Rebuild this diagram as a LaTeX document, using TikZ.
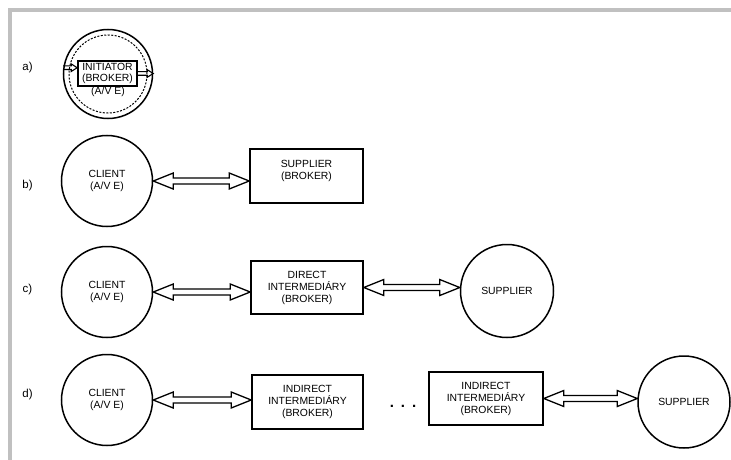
\documentclass[tikz,border=0pt]{standalone}
\usepackage{fontspec}
\setmainfont{Liberation Sans}
\usetikzlibrary{calc}
\definecolor{framegray}{HTML}{C0C0C0}
\begin{document}
\begin{tikzpicture}[x=1pt,y=-1pt,
  every node/.style={font=\fontsize{10.4}{12}\selectfont, align=center, inner sep=0pt},
  ent/.style={circle, draw, line width=1.5pt, minimum size=91pt},
  box/.style={rectangle, draw, line width=1.6pt},
  lbl/.style={font=\fontsize{11.5}{12}\selectfont},
  biarrow/.style={draw, line width=1.3pt, line join=miter,
    to path={let \p1=(\tikztostart), \p2=(\tikztotarget) in
      (\x1,\y1) -- (\x1+20pt,\y1+8pt) -- (\x1+20pt,\y1+3pt) -- (\x2-20pt,\y1+3pt)
      -- (\x2-20pt,\y1+8pt) -- (\x2,\y1) -- (\x2-20pt,\y1-8pt) -- (\x2-20pt,\y1-3pt)
      -- (\x1+20pt,\y1-3pt) -- (\x1+20pt,\y1-8pt) -- cycle}},
  smallarrow/.style={draw, line width=1.1pt, line join=miter,
    to path={let \p1=(\tikztostart), \p2=(\tikztotarget) in
      (\x1,\y1+1.8pt) -- (\x2-6pt,\y1+1.8pt) -- (\x2-6pt,\y1+3.8pt) -- (\x2,\y1)
      -- (\x2-6pt,\y1-3.8pt) -- (\x2-6pt,\y1-1.8pt) -- (\x1,\y1-1.8pt)}},
  framel/.style={draw=framegray, line width=3.5pt}
]
\useasboundingbox (0,0) rectangle (731,460);
\draw[framel] (10,460) -- (10,10) -- (731,10);

% a)
\node[lbl] (la) at (27.5,68) {a)};
\node[circle, draw, line width=1.5pt, minimum size=89pt] (aC) at (108,74) {};
\node[circle, draw, line width=1pt, dash pattern=on 2pt off 1.5pt, minimum size=78pt] (aD) at (108,74) {};
\node[box, minimum width=59pt, minimum height=25pt, font=\fontsize{10.4}{11}\selectfont] (aR) at (107.5,73.5) {INITIATOR\\(BROKER)};
\node (aT) at (108,92) {(A/V E)};
\draw[smallarrow] (aC.172) to (aR.west);
\draw[smallarrow] (aR.east) to (aC.2);

% b)
\node[lbl] (lb) at (27.5,186) {b)};
\node[ent] (bC) at (107,181) {CLIENT\\(A/V E)};
\node[box, minimum width=113pt, minimum height=54pt, text depth=12pt] (bS) at (306.5,176) {SUPPLIER\\(BROKER)};
\draw[biarrow] (bC.east) to (bS.west);

% c)
\node[lbl] (lc) at (27.5,290) {c)};
\node[ent] (cC) at (107,292) {CLIENT\\(A/V E)};
\node[box, minimum width=112pt, minimum height=53pt] (cI) at (307,287.5) {DIRECT\\INTERMEDIÁRY\\(BROKER)};
\node[ent, minimum size=93pt] (cS) at (507,291) {SUPPLIER};
\draw[biarrow] (cC.east) to (cI.west);
\draw[biarrow] (cI.east) to (cS.west);

% d)
\node[lbl] (ld) at (27.5,395) {d)};
\node[ent] (dC) at (107,400) {CLIENT\\(A/V E)};
\node[box, minimum width=111pt, minimum height=54pt] (dI1) at (307.5,402) {INDIRECT\\INTERMEDIÁRY\\(BROKER)};
\node[box, minimum width=114pt, minimum height=53pt] (dI2) at (486,398.5) {INDIRECT\\INTERMEDIÁRY\\(BROKER)};
\node[ent, minimum size=92pt] (dS) at (684,402) {SUPPLIER};
\draw[biarrow] (dC.east) to (dI1.west);
\draw[biarrow] (dI2.east) to (dS.west);
\node[font=\fontsize{15}{15}\bfseries] (dots) at (403,406) {.\hspace{7pt}.\hspace{7pt}.};
\end{tikzpicture}
\end{document}
